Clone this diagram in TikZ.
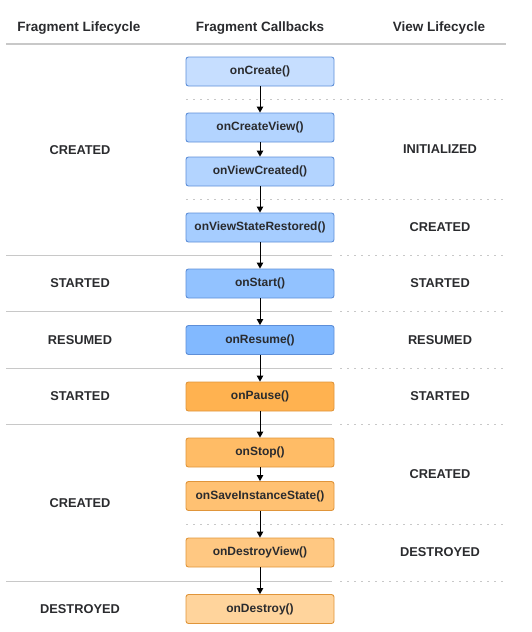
\documentclass[tikz,border=0pt]{standalone}
\usepackage{fontspec}
\setmainfont{Liberation Sans}
\usetikzlibrary{arrows.meta}
\definecolor{bluedraw}{HTML}{5E8FD8}
\definecolor{orangedraw}{HTML}{E0953A}
\definecolor{sepgray}{HTML}{C8C8C8}
\definecolor{txtgray}{HTML}{2A2B2E}
\definecolor{bluea}{HTML}{C6DEFF}
\definecolor{blueb}{HTML}{B3D4FF}
\definecolor{bluec}{HTML}{A6CDFF}
\definecolor{blued}{HTML}{92C2FF}
\definecolor{bluee}{HTML}{82B9FF}
\definecolor{orangea}{HTML}{FFB250}
\definecolor{orangeb}{HTML}{FFBC66}
\definecolor{orangec}{HTML}{FFC172}
\definecolor{oranged}{HTML}{FFC882}
\definecolor{orangee}{HTML}{FFD49C}

\tikzset{
  cbbox/.style={draw, rounded corners=2.5pt, minimum width=148pt, minimum height=29pt,
    line width=0.9pt, font=\fontsize{12}{14}\selectfont\bfseries, text=txtgray},
  bluebox/.style={cbbox, draw=bluedraw, fill=#1},
  orangebox/.style={cbbox, draw=orangedraw, fill=#1},
  lcstate/.style={font=\fontsize{12.8}{15}\selectfont\bfseries, text=txtgray},
  colhead/.style={font=\fontsize{13.5}{16}\selectfont\bfseries, text=txtgray},
  flow/.style={draw, line width=1pt, -{Triangle[length=6pt,width=6.5pt]}},
  rule/.style={draw=sepgray, line width=1.1pt},
  dotrule/.style={draw=sepgray, line width=1pt, dash pattern=on 2pt off 5pt}
}

\begin{document}
\begin{tikzpicture}[x=1pt,y=-1pt]
\useasboundingbox (0,0) rectangle (531,632);

% column heads
\node[colhead] (h1) at (79,28) {Fragment Lifecycle};
\node[colhead] (h2) at (260,28) {Fragment Callbacks};
\node[colhead] (h3) at (439,28) {View Lifecycle};
\path[rule] (6,44) -- (506,44);

% rows
\path[dotrule] (186,99) -- (506,99);
\path[dotrule] (186,199) -- (506,199);
\foreach \y in {255.7,311.7,368.3,424.3,581.7} {
  \path[rule] (6,\y) -- (332,\y);
  \path[dotrule] (340,\y) -- (506,\y);
}
\path[dotrule] (186,524.3) -- (506,524.3);

% callbacks
\node[bluebox=bluea] (cr) at (260,71.5) {onCreate()};
\node[bluebox=blueb] (cv) at (260,127.5) {onCreateView()};
\node[bluebox=blueb] (vc) at (260,171.5) {onViewCreated()};
\node[bluebox=bluec] (vr) at (260,227.5) {onViewStateRestored()};
\node[bluebox=blued] (st) at (260,283.5) {onStart()};
\node[bluebox=bluee] (re) at (260,340) {onResume()};
\node[orangebox=orangea] (pa) at (260,396.5) {onPause()};
\node[orangebox=orangeb] (so) at (260,452.5) {onStop()};
\node[orangebox=orangec] (ss) at (260,496) {onSaveInstanceState()};
\node[orangebox=oranged] (dv) at (260,552.5) {onDestroyView()};
\node[orangebox=orangee] (de) at (260,609) {onDestroy()};

\path[flow] (cr) -- (cv);
\path[flow] (cv) -- (vc);
\path[flow] (vc) -- (vr);
\path[flow] (vr) -- (st);
\path[flow] (st) -- (re);
\path[flow] (re) -- (pa);
\path[flow] (pa) -- (so);
\path[flow] (so) -- (ss);
\path[flow] (ss) -- (dv);
\path[flow] (dv) -- (de);

% fragment lifecycle
\node[lcstate] (fcreated) at (80,150) {CREATED};
\node[lcstate] (fstarted) at (80,283.5) {STARTED};
\node[lcstate] (fresumed) at (80,340) {RESUMED};
\node[lcstate] (fstarted2) at (80,396.5) {STARTED};
\node[lcstate] (fcreated2) at (80,503) {CREATED};
\node[lcstate] (fdestroyed) at (80,609) {DESTROYED};

% view lifecycle
\node[lcstate] (vinit) at (440,149.5) {INITIALIZED};
\node[lcstate] (vcreated) at (440,227.5) {CREATED};
\node[lcstate] (vstarted) at (440,283.5) {STARTED};
\node[lcstate] (vresumed) at (440,340) {RESUMED};
\node[lcstate] (vstarted2) at (440,396.5) {STARTED};
\node[lcstate] (vcreated2) at (440,474.5) {CREATED};
\node[lcstate] (vdestroyed) at (440,552.5) {DESTROYED};
\end{tikzpicture}
\end{document}
